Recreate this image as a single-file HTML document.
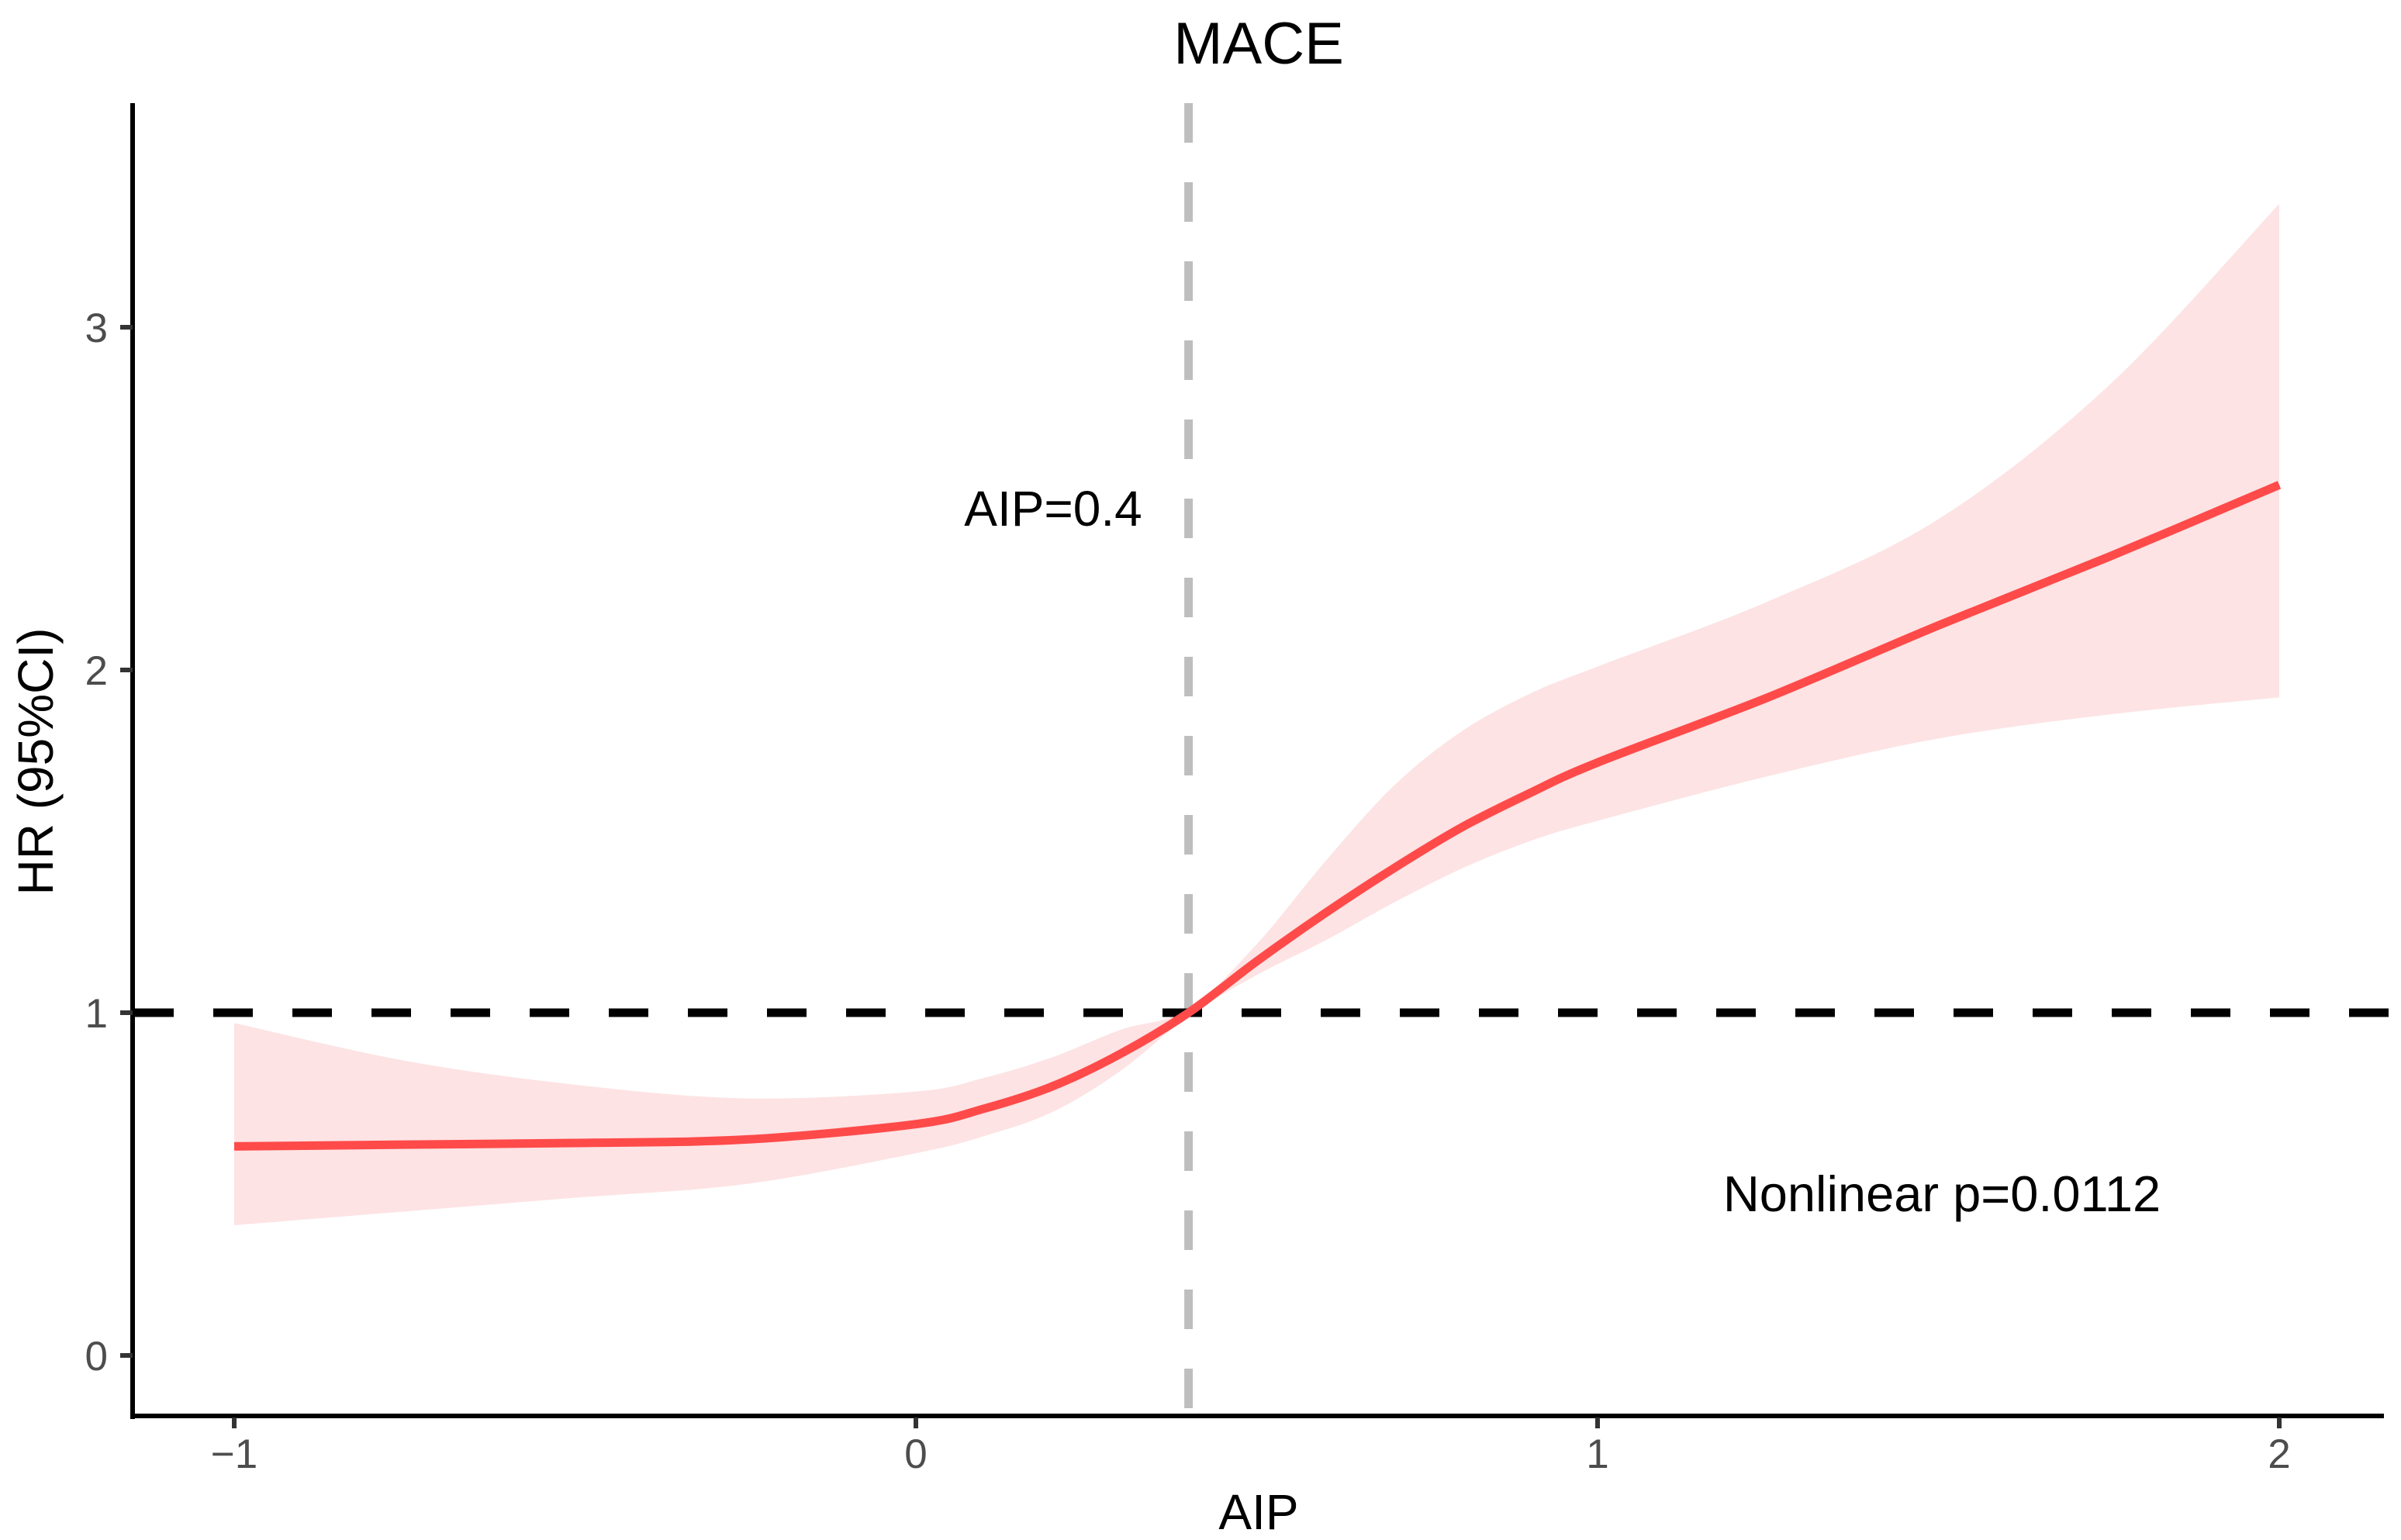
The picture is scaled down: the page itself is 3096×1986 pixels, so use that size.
<!DOCTYPE html>
<html><head><meta charset="utf-8"><style>
html,body{margin:0;padding:0;background:#fff;}
svg{display:block;font-family:"Liberation Sans",Arial,sans-serif;}
</style></head><body>
<svg id="chart" width="3096" height="1986" viewBox="0 0 3096 1986" xmlns="http://www.w3.org/2000/svg">
<g id="plot"></g>
<text x="1623" y="82" text-anchor="middle" font-size="76" fill="#000">MACE</text>
<text x="1623" y="1972" text-anchor="middle" font-size="64" fill="#000">AIP</text>
<text transform="translate(68,982) rotate(-90)" text-anchor="middle" font-size="64" fill="#000">HR (95%CI)</text>
<text x="1358" y="678" text-anchor="middle" font-size="64" fill="#000">AIP=0.4</text>
<text x="2504" y="1562" text-anchor="middle" font-size="65" fill="#000">Nonlinear p=0.0112</text>
</svg>
<script>
const xs   = [-1, -0.75, -0.5, -0.25, 0, 0.1, 0.2, 0.3, 0.4, 0.5, 0.6, 0.7, 0.8, 0.9, 1.0, 1.25, 1.5, 1.75, 2];
const est  = [0.61, 0.615, 0.62, 0.63, 0.675, 0.72, 0.785, 0.88, 1.0, 1.15, 1.29, 1.42, 1.54, 1.64, 1.73, 1.92, 2.13, 2.33, 2.54];
const lo   = [0.38, 0.42, 0.46, 0.50, 0.59, 0.64, 0.71, 0.83, 0.99, 1.11, 1.21, 1.32, 1.42, 1.50, 1.56, 1.69, 1.80, 1.87, 1.92];
const hi   = [0.97, 0.86, 0.79, 0.75, 0.77, 0.81, 0.87, 0.95, 1.01, 1.20, 1.44, 1.66, 1.82, 1.93, 2.01, 2.20, 2.44, 2.83, 3.36];
const xTicks = [-1, 0, 1, 2];
const xTickLabels = ["\u22121", "0", "1", "2"];
const yTicks = [0, 1, 2, 3];
const yTickLabels = ["0", "1", "2", "3"];
const refX = 0.4;
const refY = 1;

const NS = "http://www.w3.org/2000/svg";
const g = document.getElementById("plot");
const X = v => 1181 + v * 879;
const Y = v => 1748 - v * 442;
function mk(tag, attrs, parent) {
  const e = document.createElementNS(NS, tag);
  for (const k in attrs) e.setAttribute(k, attrs[k]);
  (parent || g).appendChild(e);
  return e;
}
function smooth(px, py) {
  let d = "M" + px[0] + "," + py[0];
  for (let i = 0; i < px.length - 1; i++) {
    const x0 = px[Math.max(i-1,0)], y0 = py[Math.max(i-1,0)];
    const x1 = px[i], y1 = py[i], x2 = px[i+1], y2 = py[i+1];
    const x3 = px[Math.min(i+2,px.length-1)], y3 = py[Math.min(i+2,px.length-1)];
    d += " C" + (x1 + (x2-x0)/6) + "," + (y1 + (y2-y0)/6) + " " + (x2 - (x3-x1)/6) + "," + (y2 - (y3-y1)/6) + " " + x2 + "," + y2;
  }
  return d;
}
const pxs = xs.map(X);
const upper = smooth(pxs, hi.map(Y));
const rx = pxs.slice().reverse(), rl = lo.map(Y).reverse();
const lower = smooth(rx, rl).replace(/^M/, "L");
const rib = mk("path", {d: upper + " " + lower + " Z", fill: "#fde3e4"});



const vl = mk("line", {x1: X(refX), x2: X(refX), y1: 133, y2: 1826, stroke: "#bebebe", "stroke-width": 11, "stroke-dasharray": "51 51"});


const hl = mk("line", {x1: 173, x2: 3080, y1: Y(refY), y2: Y(refY), stroke: "#000", "stroke-width": 11, "stroke-dasharray": "51 51"});



const cv = mk("path", {d: smooth(pxs, est.map(Y)), fill: "none", stroke: "#ff4a4a", "stroke-width": 11});



const ya = mk("line", {x1: 171, x2: 171, y1: 133, y2: 1830, stroke: "#000", "stroke-width": 6});


const xa = mk("line", {x1: 168, x2: 3074, y1: 1826, y2: 1826, stroke: "#000", "stroke-width": 6});



xTicks.forEach((t, i) => {
  const tk = mk("line", {x1: X(t), x2: X(t), y1: 1828, y2: 1842, stroke: "#333", "stroke-width": 6});
  
  
  const tl = mk("text", {x: X(t), y: 1893, "text-anchor": "middle", "font-size": 53, fill: "#4d4d4d"});
  tl.textContent = xTickLabels[i];
  
  
});
yTicks.forEach((t, i) => {
  const tk = mk("line", {x1: 155, x2: 171, y1: Y(t), y2: Y(t), stroke: "#333", "stroke-width": 6});
  
  
  const tl = mk("text", {x: 139, y: Y(t) + 19, "text-anchor": "end", "font-size": 53, fill: "#4d4d4d"});
  tl.textContent = yTickLabels[i];
  
  
});
</script>
</body></html>
